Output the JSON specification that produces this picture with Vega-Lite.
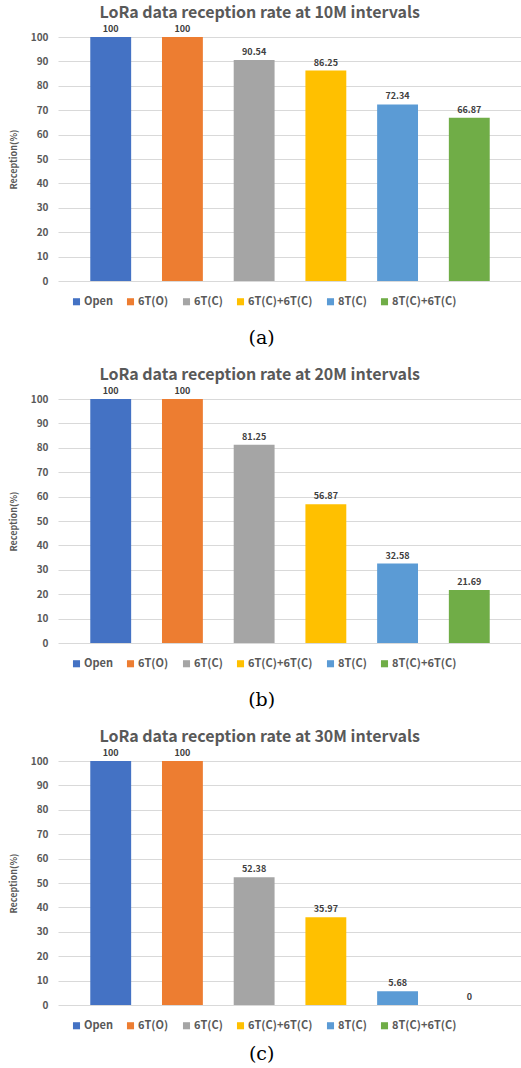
{
  "$schema": "https://vega.github.io/schema/vega-lite/v6.json",
  "padding": {"left": 9, "top": 5, "right": 0, "bottom": 0},
  "background": "white",
  "data": {"values": [
    {"interval": "10M", "group": "Open", "value": 100},
    {"interval": "10M", "group": "6T(O)", "value": 100},
    {"interval": "10M", "group": "6T(C)", "value": 90.54},
    {"interval": "10M", "group": "6T(C)+6T(C)", "value": 86.25},
    {"interval": "10M", "group": "8T(C)", "value": 72.34},
    {"interval": "10M", "group": "8T(C)+6T(C)", "value": 66.87},
    {"interval": "20M", "group": "Open", "value": 100},
    {"interval": "20M", "group": "6T(O)", "value": 100},
    {"interval": "20M", "group": "6T(C)", "value": 81.25},
    {"interval": "20M", "group": "6T(C)+6T(C)", "value": 56.87},
    {"interval": "20M", "group": "8T(C)", "value": 32.58},
    {"interval": "20M", "group": "8T(C)+6T(C)", "value": 21.69},
    {"interval": "30M", "group": "Open", "value": 100},
    {"interval": "30M", "group": "6T(O)", "value": 100},
    {"interval": "30M", "group": "6T(C)", "value": 52.38},
    {"interval": "30M", "group": "6T(C)+6T(C)", "value": 35.97},
    {"interval": "30M", "group": "8T(C)", "value": 5.68},
    {"interval": "30M", "group": "8T(C)+6T(C)", "value": 0}
  ]},
  "config": {
    "view": {"stroke": null},
    "title": {"font": "Noto Sans CJK KR", "fontWeight": "bold", "fontSize": 16, "color": "#595959", "anchor": "middle", "frame": "bounds"},
    "axis": {"labelFont": "Noto Sans CJK KR", "titleFont": "Noto Sans CJK KR"},
    "legend": {"labelFont": "Noto Sans CJK KR"}
  },
  "resolve": {"legend": {"color": "independent"}},
  "spacing": 19,
  "vconcat": [
    {
      "title": {"text": "(a)", "orient": "bottom", "font": "DejaVu Serif", "fontWeight": "normal", "fontSize": 19, "color": "#000000", "offset": 9, "dx": -4},
      "resolve": {"legend": {"color": "independent"}},
      "vconcat": [
        {
          "title": {"text": "LoRa data reception rate at 10M intervals", "offset": 4, "dx": -6},
          "width": 464,
          "height": 244,
          "transform": [{"filter": "datum.interval == '10M'"}],
          "encoding": {
            "x": {"field": "group", "type": "nominal", "sort": null, "axis": null, "scale": {"paddingInner": 0.43, "paddingOuter": 0.45}},
            "y": {"field": "value", "type": "quantitative", "scale": {"domain": [0, 100]},
              "axis": {"title": "Reception(%)", "values": [0,10,20,30,40,50,60,70,80,90,100], "domain": false, "ticks": false, "gridColor": "#d9d9d9", "labelColor": "#595959", "labelFontSize": 10, "labelFontWeight": "bold", "labelPadding": 10, "titleColor": "#595959", "titleFontSize": 9, "titleFontWeight": "bold", "titlePadding": 12}}
          },
          "layer": [
            {"mark": {"type": "bar"},
             "encoding": {"color": {"field": "group", "type": "nominal", "sort": null,
               "scale": {"domain": ["Open", "6T(O)", "6T(C)", "6T(C)+6T(C)", "8T(C)", "8T(C)+6T(C)"], "range": ["#4472C4", "#ED7D31", "#A5A5A5", "#FFC000", "#5B9BD5", "#70AD47"]},
               "legend": {"title": null, "orient": "bottom", "direction": "horizontal", "symbolType": "square", "symbolSize": 50, "symbolStrokeWidth": 0, "labelOffset": 2, "labelFontSize": 11, "labelFontWeight": "bold", "labelColor": "#595959", "columnPadding": 12, "padding": 13, "offset": 2}}}},
            {"mark": {"type": "text", "dy": -8, "fontSize": 9, "fontWeight": "bold", "color": "#404040", "font": "Noto Sans CJK KR"},
             "encoding": {"text": {"field": "value", "type": "quantitative"}}}
          ]
        }
      ]
    },
    {
      "title": {"text": "(b)", "orient": "bottom", "font": "DejaVu Serif", "fontWeight": "normal", "fontSize": 19, "color": "#000000", "offset": 9, "dx": -4},
      "resolve": {"legend": {"color": "independent"}},
      "vconcat": [
        {
          "title": {"text": "LoRa data reception rate at 20M intervals", "offset": 4, "dx": -6},
          "width": 464,
          "height": 244,
          "transform": [{"filter": "datum.interval == '20M'"}],
          "encoding": {
            "x": {"field": "group", "type": "nominal", "sort": null, "axis": null, "scale": {"paddingInner": 0.43, "paddingOuter": 0.45}},
            "y": {"field": "value", "type": "quantitative", "scale": {"domain": [0, 100]},
              "axis": {"title": "Reception(%)", "values": [0,10,20,30,40,50,60,70,80,90,100], "domain": false, "ticks": false, "gridColor": "#d9d9d9", "labelColor": "#595959", "labelFontSize": 10, "labelFontWeight": "bold", "labelPadding": 10, "titleColor": "#595959", "titleFontSize": 9, "titleFontWeight": "bold", "titlePadding": 12}}
          },
          "layer": [
            {"mark": {"type": "bar"},
             "encoding": {"color": {"field": "group", "type": "nominal", "sort": null,
               "scale": {"domain": ["Open", "6T(O)", "6T(C)", "6T(C)+6T(C)", "8T(C)", "8T(C)+6T(C)"], "range": ["#4472C4", "#ED7D31", "#A5A5A5", "#FFC000", "#5B9BD5", "#70AD47"]},
               "legend": {"title": null, "orient": "bottom", "direction": "horizontal", "symbolType": "square", "symbolSize": 50, "symbolStrokeWidth": 0, "labelOffset": 2, "labelFontSize": 11, "labelFontWeight": "bold", "labelColor": "#595959", "columnPadding": 12, "padding": 13, "offset": 2}}}},
            {"mark": {"type": "text", "dy": -8, "fontSize": 9, "fontWeight": "bold", "color": "#404040", "font": "Noto Sans CJK KR"},
             "encoding": {"text": {"field": "value", "type": "quantitative"}}}
          ]
        }
      ]
    },
    {
      "title": {"text": "(c)", "orient": "bottom", "font": "DejaVu Serif", "fontWeight": "normal", "fontSize": 19, "color": "#000000", "offset": 1, "dx": -4},
      "resolve": {"legend": {"color": "independent"}},
      "vconcat": [
        {
          "title": {"text": "LoRa data reception rate at 30M intervals", "offset": 4, "dx": -6},
          "width": 464,
          "height": 244,
          "transform": [{"filter": "datum.interval == '30M'"}],
          "encoding": {
            "x": {"field": "group", "type": "nominal", "sort": null, "axis": null, "scale": {"paddingInner": 0.43, "paddingOuter": 0.45}},
            "y": {"field": "value", "type": "quantitative", "scale": {"domain": [0, 100]},
              "axis": {"title": "Reception(%)", "values": [0,10,20,30,40,50,60,70,80,90,100], "domain": false, "ticks": false, "gridColor": "#d9d9d9", "labelColor": "#595959", "labelFontSize": 10, "labelFontWeight": "bold", "labelPadding": 10, "titleColor": "#595959", "titleFontSize": 9, "titleFontWeight": "bold", "titlePadding": 12}}
          },
          "layer": [
            {"mark": {"type": "bar"},
             "encoding": {"color": {"field": "group", "type": "nominal", "sort": null,
               "scale": {"domain": ["Open", "6T(O)", "6T(C)", "6T(C)+6T(C)", "8T(C)", "8T(C)+6T(C)"], "range": ["#4472C4", "#ED7D31", "#A5A5A5", "#FFC000", "#5B9BD5", "#70AD47"]},
               "legend": {"title": null, "orient": "bottom", "direction": "horizontal", "symbolType": "square", "symbolSize": 50, "symbolStrokeWidth": 0, "labelOffset": 2, "labelFontSize": 11, "labelFontWeight": "bold", "labelColor": "#595959", "columnPadding": 12, "padding": 13, "offset": 2}}}},
            {"mark": {"type": "text", "dy": -8, "fontSize": 9, "fontWeight": "bold", "color": "#404040", "font": "Noto Sans CJK KR"},
             "encoding": {"text": {"field": "value", "type": "quantitative"}}}
          ]
        }
      ]
    }
  ]
}
